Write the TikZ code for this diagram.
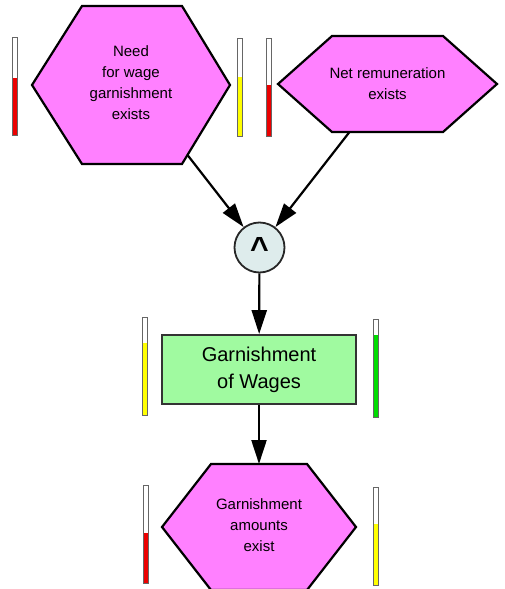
\documentclass[tikz,border=0pt]{standalone}
\usepackage{fontspec}
\setmainfont{Liberation Sans}
\usetikzlibrary{arrows.meta}
\definecolor{hexpink}{RGB}{255,128,255}
\definecolor{boxgreen}{RGB}{160,250,160}
\definecolor{andfill}{RGB}{222,236,236}
\definecolor{barred}{RGB}{235,0,0}
\definecolor{baryellow}{RGB}{255,255,0}
\definecolor{bargreen}{RGB}{0,220,0}
\newcommand\gaugebar[5]{%
  \fill[white] (#1,#2) rectangle (#1+5,#3);
  \fill[#5] (#1,#4) rectangle (#1+5,#3);
  \draw[gaugeframe] (#1,#2) rectangle (#1+5,#3);}
\newcommand\wedgesym{{\bfseries\fontsize{32}{32}\selectfont\textasciicircum}}
\tikzset{
  hexshape/.style={draw=black, fill=hexpink, line width=2.2pt, line join=miter},
  hextext/.style={align=center, font=\fontsize{15}{21}\selectfont, inner sep=0pt},
  funcbox/.style={draw=black!80, fill=boxgreen, line width=1.8pt, minimum width=194pt, minimum height=69pt, inner sep=0pt, align=center, font=\fontsize{20}{27}\selectfont},
  andnode/.style={circle, draw=black!85, fill=andfill, line width=1.8pt, minimum size=50pt, inner sep=0pt},
  arr/.style={line width=2.2pt, -{Triangle[length=24pt,width=15pt]}},
  gaugeframe/.style={draw=black!60, line width=0.9pt}
}
\begin{document}
\begin{tikzpicture}[x=1pt,y=-1pt]
\useasboundingbox (0,0) rectangle (505,589);
% hexagons
\path[hexshape] (32,85) -- (82,6) -- (182,6) -- (230,85) -- (182,164) -- (82,164) -- cycle;
\node[hextext] (need) at (131,83) {Need\\for wage\\garnishment\\exists};
\path[hexshape] (278,84) -- (332,36) -- (443,36) -- (497,84) -- (443,132) -- (332,132) -- cycle;
\node[hextext] (netrem) at (387.5,83.5) {Net remuneration\\exists};
\path[hexshape] (162,527) -- (211,464) -- (307,464) -- (356,527) -- (307,590) -- (211,590) -- cycle;
\node[hextext] (amounts) at (259,525) {Garnishment\\amounts\\exist};
% connector ends on hexagon borders
\coordinate (needout) at (187.5,155);
\coordinate (netout) at (349.5,132);
\coordinate (amountsin) at (259,464);
% operator and function
\node[andnode] (opand) at (259.5,247.5) {};
\node[inner sep=0pt, anchor=base] (opsym) at (259.5,259.5) {\wedgesym};
\node[funcbox] (func) at (259,369.5) {Garnishment\\of Wages};
% connectors
\draw[arr] (needout) -- (opand);
\draw[arr] (netout) -- (opand);
\draw[arr] (opand) -- (func);
\draw[arr] (func) -- (amountsin);
% gauges
\gaugebar{12.5}{37}{135}{78}{barred}
\gaugebar{237}{38}{136}{77}{baryellow}
\gaugebar{266}{38}{136}{85}{barred}
\gaugebar{142}{317}{415}{343}{baryellow}
\gaugebar{373}{319}{417}{335}{bargreen}
\gaugebar{143}{485}{583}{533}{barred}
\gaugebar{373}{487}{585}{524}{baryellow}
\end{tikzpicture}
\end{document}
